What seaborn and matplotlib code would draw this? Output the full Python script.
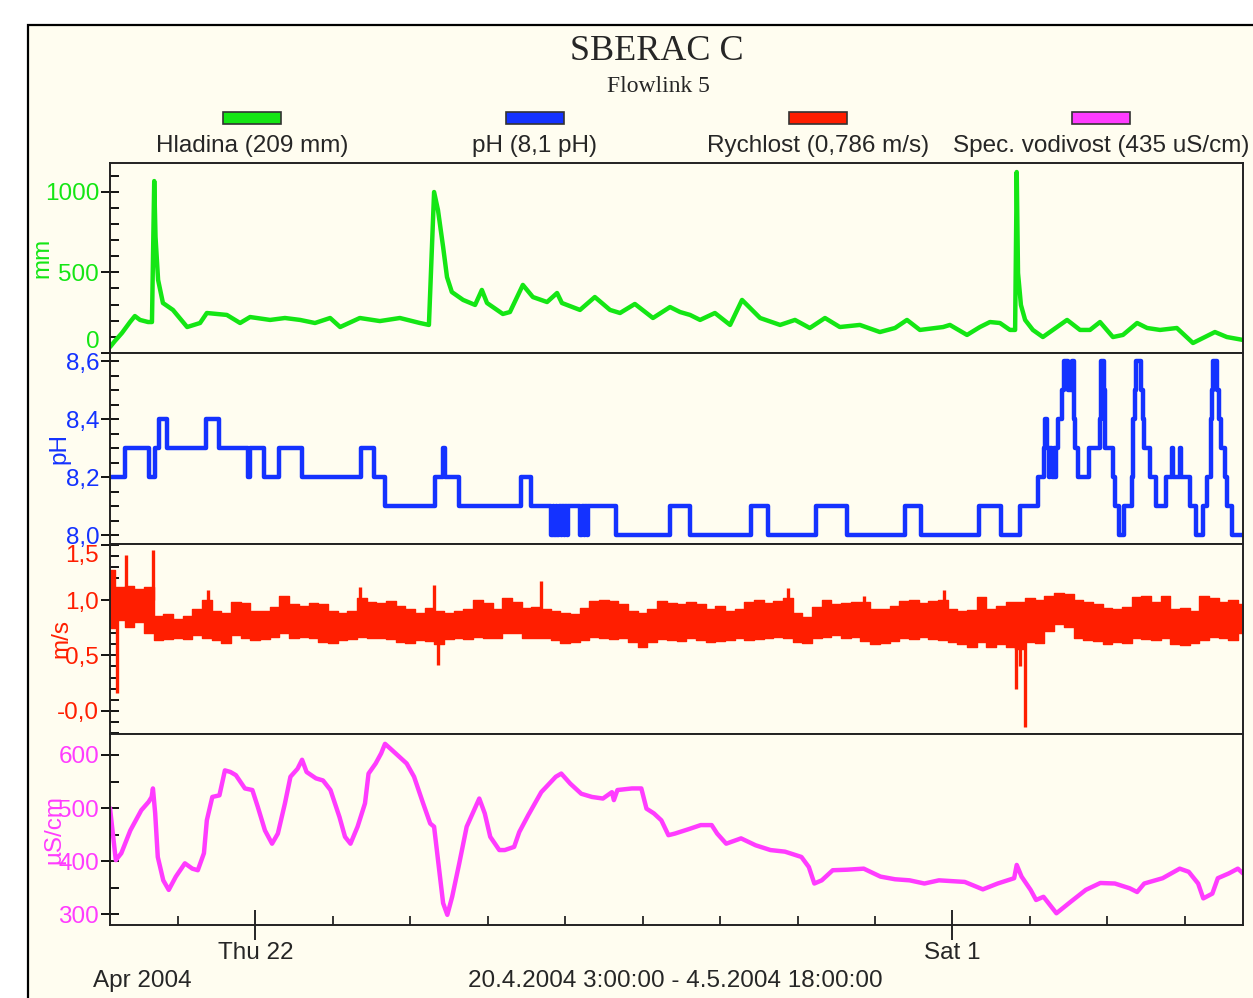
import matplotlib
matplotlib.use("Agg")
import matplotlib.pyplot as plt
import matplotlib.dates as mdates
import matplotlib.ticker as mtick
from matplotlib.patches import Rectangle
import numpy as np
import pandas as pd
import seaborn as sns

sns.set_style("ticks")
plt.rcParams['font.family'] = ['Liberation Sans', 'DejaVu Sans']

START = pd.Timestamp('2004-04-20 03:00')
END = pd.Timestamp('2004-05-04 18:00')

# --- Hladina (mm), hours since start ---
level_hours = [0.0, 1.5, 3.7, 6.2, 7.7, 9.3, 11.8, 13.0, 13.7, 14.1, 14.9, 16.4, 19.5, 23.9,
               27.9, 30.0, 36.2, 40.3, 43.4, 49.6, 54.2, 58.9, 63.5, 68.2, 71.3, 77.4, 83.6,
               89.8, 96.0, 98.8, 100.4, 101.6, 103.2, 104.4, 105.9, 109.4, 113.1, 115.2,
               116.8, 121.7, 123.9, 127.9, 131.0, 135.4, 138.5, 140.0, 145.6, 150.2, 154.9,
               158.0, 162.6, 168.2, 173.5, 176.6, 179.7, 182.8, 187.4, 192.1, 195.8, 201.4,
               207.6, 212.2, 216.8, 221.5, 226.1, 232.3, 238.5, 243.2, 246.9, 250.9, 258.1,
               260.2, 265.5, 269.5, 272.6, 275.7, 278.8, 280.4, 280.9, 281.3, 282.2, 283.5,
               285.9, 289.0, 292.1, 296.5, 300.5, 303.6, 306.7, 310.7, 313.8, 318.2, 321.3,
               325.3, 330.5, 335.5, 338.6, 342.3, 346.0, 351.0]
level_mm = [37, 74, 124, 192, 229, 205, 192, 192, 1066, 720, 453, 310, 267, 161,
            186, 248, 236, 186, 223, 205, 217, 205, 186, 217, 161, 217, 198,
            217, 186, 174, 998, 887, 657, 471, 378, 329, 298, 391,
            310, 242, 254, 422, 347, 316, 372, 310, 267, 347, 267,
            248, 304, 217, 285, 254, 236, 205, 248, 174, 329, 217,
            174, 205, 155, 217, 161, 174, 130, 155, 205, 143, 161,
            174, 112, 161, 192, 186, 143, 143, 1122, 496, 298, 205,
            143, 99, 143, 205, 143, 143, 192, 99, 112, 186, 155,
            143, 155, 62, 93, 130, 99, 81]

# --- pH, step changes (hours since start, new level) ---
ph_hours = [0.0, 4.6, 12.2, 13.9, 15.3, 17.6, 29.6, 33.9, 42.9, 43.5, 47.7, 52.3, 59.6,
            77.8, 81.8, 85.2, 100.6, 103.3, 103.8, 108.0, 127.4, 130.4,
            136.6, 137.1, 137.6, 138.1, 138.6, 139.1, 139.6, 140.1, 140.6, 141.1, 141.6, 141.9,
            145.7, 146.2, 146.7, 147.2, 147.7, 148.0,
            156.7, 173.5, 179.8, 198.7, 203.8, 218.8, 228.4, 246.4, 251.4, 269.1, 276.1,
            281.8, 287.5, 289.2, 289.8, 290.3, 290.9, 291.3, 291.8, 292.3, 292.7, 293.2,
            293.7, 294.9, 295.6, 296.9, 297.9, 298.6, 299.1, 299.9, 303.2, 306.8, 307.0,
            307.9, 308.2, 310.8, 311.3, 312.5, 314.2, 316.5, 317.0, 317.6, 317.9, 319.5,
            319.9, 320.4, 322.1, 323.9, 327.3, 329.0, 329.4, 331.4, 331.8, 334.6, 336.3,
            338.6, 339.7, 341.1, 341.4, 341.8, 343.1, 343.7, 344.3, 345.4, 346.0, 347.7, 351.0]
ph_values = [8.2, 8.3, 8.2, 8.3, 8.4, 8.3, 8.4, 8.3, 8.2, 8.3, 8.2, 8.3, 8.2,
             8.3, 8.2, 8.1, 8.2, 8.3, 8.2, 8.1, 8.2, 8.1,
             8.0, 8.1, 8.0, 8.1, 8.0, 8.1, 8.0, 8.1, 8.0, 8.1, 8.0, 8.1,
             8.0, 8.1, 8.0, 8.1, 8.0, 8.1,
             8.0, 8.1, 8.0, 8.1, 8.0, 8.1, 8.0, 8.1, 8.0, 8.1, 8.0,
             8.1, 8.2, 8.3, 8.4, 8.3, 8.2, 8.3, 8.2, 8.3, 8.2, 8.3,
             8.4, 8.5, 8.6, 8.5, 8.6, 8.4, 8.3, 8.2, 8.3, 8.4, 8.6,
             8.5, 8.3, 8.2, 8.1, 8.0, 8.1, 8.2, 8.4, 8.5, 8.6, 8.5,
             8.4, 8.3, 8.2, 8.1, 8.2, 8.3, 8.2, 8.3, 8.2, 8.1, 8.0,
             8.1, 8.2, 8.4, 8.5, 8.6, 8.5, 8.4, 8.3, 8.2, 8.1, 8.0, 8.0]

# --- Rychlost (m/s): noisy band, upper / lower envelope every 3 h ---
speed_hi = [1.27, 1.12, 1.13, 1.10, 1.12, 0.86, 0.87, 0.83, 0.86, 0.92,
            1.00, 0.90, 0.88, 0.98, 0.97, 0.90, 0.90, 0.94, 1.04, 0.96,
            0.95, 0.97, 0.96, 0.90, 0.88, 0.90, 1.02, 0.98, 0.97, 0.99,
            0.95, 0.92, 0.88, 0.93, 0.90, 0.88, 0.90, 0.92, 1.00, 0.97,
            0.92, 1.02, 0.98, 0.93, 0.94, 0.92, 0.90, 0.88, 0.87, 0.93,
            0.99, 1.00, 0.99, 0.96, 0.90, 0.88, 0.92, 0.99, 0.97, 0.96,
            0.98, 0.96, 0.92, 0.95, 0.90, 0.92, 0.98, 1.00, 0.97, 0.99,
            1.02, 0.88, 0.85, 0.94, 1.00, 0.96, 0.97, 0.98, 0.98, 0.92,
            0.92, 0.95, 0.99, 1.00, 0.97, 0.99, 1.00, 0.92, 0.90, 0.91,
            1.03, 0.92, 0.95, 0.98, 0.98, 1.02, 1.00, 1.04, 1.06, 1.05,
            1.00, 0.98, 0.96, 0.93, 0.92, 0.94, 1.03, 1.04, 0.98, 1.04,
            0.92, 0.93, 0.90, 1.04, 1.02, 0.98, 1.00, 0.96]
speed_lo = [0.75, 0.82, 0.76, 0.80, 0.70, 0.64, 0.65, 0.66, 0.65, 0.68,
            0.66, 0.64, 0.61, 0.68, 0.66, 0.64, 0.65, 0.67, 0.70, 0.66,
            0.67, 0.66, 0.62, 0.61, 0.64, 0.65, 0.67, 0.66, 0.66, 0.65,
            0.62, 0.61, 0.64, 0.63, 0.60, 0.65, 0.66, 0.65, 0.67, 0.66,
            0.66, 0.70, 0.70, 0.66, 0.66, 0.66, 0.64, 0.61, 0.62, 0.64,
            0.67, 0.66, 0.65, 0.66, 0.62, 0.58, 0.62, 0.65, 0.64, 0.63,
            0.66, 0.64, 0.62, 0.63, 0.64, 0.66, 0.64, 0.65, 0.66, 0.67,
            0.66, 0.62, 0.61, 0.66, 0.67, 0.68, 0.66, 0.67, 0.63, 0.60,
            0.61, 0.63, 0.66, 0.65, 0.67, 0.65, 0.64, 0.62, 0.60, 0.58,
            0.62, 0.58, 0.60, 0.58, 0.56, 0.62, 0.61, 0.72, 0.78, 0.76,
            0.66, 0.64, 0.63, 0.60, 0.62, 0.61, 0.66, 0.65, 0.64, 0.66,
            0.60, 0.59, 0.61, 0.64, 0.67, 0.66, 0.64, 0.70]
# isolated spikes (hours, from, to)
spike_hours = [0.2, 2.2, 5.0, 13.3, 30.5, 77.3, 100.4, 101.5, 133.5, 210.0, 233.6, 258.5,
               280.7, 281.9, 283.5]
spike_from = [0.9, 0.9, 1.0, 1.0, 0.9, 0.9, 0.9, 0.7, 0.9, 0.9, 0.9, 0.9, 0.7, 0.7, 0.7]
spike_to = [1.27, 0.16, 1.41, 1.45, 1.09, 1.12, 1.14, 0.41, 1.17, 1.11, 1.04, 1.09,
            0.20, 0.40, -0.15]

# --- Spec. vodivost (uS/cm) ---
cond_hours = [0.0, 1.8, 3.5, 6.3, 9.7, 12.0, 12.9, 13.3, 14.0, 14.8, 16.5, 18.2, 20.4, 23.2,
              25.5, 27.2, 29.1, 30.0, 31.7, 33.9, 35.6, 37.3, 39.0, 41.8, 44.1, 45.8, 48.0,
              50.2, 52.0, 54.2, 55.9, 58.1, 59.5, 60.9, 63.8, 66.0, 68.3, 71.1, 72.8, 74.5,
              76.7, 79.0, 80.1, 82.3, 84.0, 85.2, 87.4, 91.9, 94.2, 97.0, 99.2, 100.4, 101.5,
              103.2, 104.5, 106.0, 108.2, 110.5, 112.8, 114.4, 116.1, 117.8, 120.6, 122.3,
              125.2, 126.8, 129.6, 133.6, 138.1, 139.8, 142.6, 146.0, 149.3, 152.7, 155.5,
              156.1, 157.2, 161.7, 164.6, 166.2, 168.5, 170.8, 173.0, 175.0, 179.6, 183.0,
              186.4, 188.1, 190.9, 195.5, 200.0, 204.6, 209.1, 214.2, 216.5, 218.2, 220.5,
              223.9, 228.4, 233.5, 238.7, 243.2, 247.7, 252.3, 256.8, 264.8, 270.4, 275.0,
              280.1, 280.9, 282.4, 285.2, 286.9, 289.2, 293.2, 297.7, 302.3, 306.8, 311.3,
              315.9, 318.2, 320.4, 326.1, 331.4, 334.2, 337.1, 338.7, 341.5, 343.2, 346.6,
              349.4, 351.0]
cond_values = [500, 402, 415, 458, 496, 512, 521, 537, 490, 408, 364, 346, 371, 396,
               386, 383, 415, 477, 521, 524, 571, 568, 562, 537, 534, 502, 458,
               433, 452, 509, 559, 574, 591, 568, 556, 552, 534, 483, 446, 433,
               465, 509, 565, 584, 603, 621, 609, 584, 559, 509, 471, 465, 408,
               321, 299, 333, 396, 465, 496, 518, 490, 446, 421, 421,
               427, 455, 487, 530, 559, 565, 546, 527, 521, 518, 530,
               515, 534, 537, 537, 499, 490, 477, 449, 452, 461, 468,
               468, 452, 433, 443, 430, 421, 418, 408, 389, 358, 364,
               383, 384, 386, 371, 366, 364, 358, 364, 361, 347, 358,
               368, 393, 371, 346, 327, 333, 302, 324, 346, 359, 358,
               349, 342, 358, 368, 386, 380, 358, 330, 339, 368, 377,
               386, 377]

legend_labels = ['Hladina (209 mm)', 'pH (8,1 pH)', 'Rychlost (0,786 m/s)',
                 'Spec. vodivost (435 uS/cm)']
units = ['mm', 'pH', 'm/s', 'µS/cm']

BG = '#fffdf0'
GREEN = '#14e614'
BLUE = '#1432ff'
RED = '#ff1e00'
MAGENTA = '#ff3cff'
colors = [GREEN, BLUE, RED, MAGENTA]
FS = 17.5


def to_time(hours):
    return START + pd.to_timedelta(hours, unit='h')


W, H = 1253, 998


def px_rect(x0, y0, x1, y1):
    return [x0 / W, 1 - y1 / H, (x1 - x0) / W, (y1 - y0) / H]


fig = plt.figure(figsize=(W / 100, H / 100), dpi=100, facecolor='white')
fig.add_artist(Rectangle((28 / W, -0.02), 1.0, 1 - 25 / H + 0.02, transform=fig.transFigure,
                         facecolor=BG, edgecolor='black', lw=1.6, zorder=0))

panels = [(163, 353), (353, 544), (544, 734), (734, 925)]
axes = []
for i, (top, bottom) in enumerate(panels):
    ax = fig.add_axes(px_rect(110, top, 1243, bottom), sharex=axes[0] if axes else None)
    ax.set_facecolor(BG)
    for s in ax.spines.values():
        s.set_linewidth(1.4)
        s.set_color('#222222')
    axes.append(ax)

# green - water level
level_df = pd.DataFrame({'time': to_time(level_hours), 'mm': level_mm})
sns.lineplot(data=level_df, x='time', y='mm', ax=axes[0], color=GREEN, lw=3.2,
             estimator=None, sort=False)
# blue - pH steps
ph_df = pd.DataFrame({'time': to_time(ph_hours), 'ph': ph_values})
sns.lineplot(data=ph_df, x='time', y='ph', ax=axes[1], color=BLUE, lw=3.2,
             estimator=None, sort=False, drawstyle='steps-post')
# red - velocity band
speed_times = pd.date_range(START, periods=len(speed_hi), freq='3h')
axes[2].fill_between(speed_times, speed_lo, speed_hi, step='mid', color=RED, lw=1.0,
                     edgecolor=RED)
axes[2].vlines(to_time(spike_hours), spike_from, spike_to, color=RED, lw=2.4)
# magenta - conductivity
cond_df = pd.DataFrame({'time': to_time(cond_hours), 'cond': cond_values})
sns.lineplot(data=cond_df, x='time', y='cond', ax=axes[3], color=MAGENTA, lw=3.2,
             estimator=None, sort=False)

# y axes
ylims = [(0, 1178), (7.969, 8.628), (-0.21, 1.506), (279.9, 639.5)]
yticks = [[0, 500, 1000], [8.0, 8.2, 8.4, 8.6], [0.0, 0.5, 1.0, 1.5], [300, 400, 500, 600]]
yticklabels = [['0', '500', '1000'], ['8,0', '8,2', '8,4', '8,6'],
               ['-0,0', '0,5', '1,0', '1,5'], ['300', '400', '500', '600']]
minor_steps = [100, 0.05, 0.1, 50]
label_x = [-0.0503, -0.0353, -0.0335, -0.0397]

for ax, lim, tk, tl, ms, col, unit, lx in zip(axes, ylims, yticks, yticklabels, minor_steps,
                                             colors, units, label_x):
    ax.set_ylim(*lim)
    ax.set_yticks(tk)
    ax.set_yticklabels(tl)
    ax.yaxis.set_minor_locator(mtick.MultipleLocator(ms))
    ax.tick_params(axis='y', which='major', direction='inout', length=13.5, width=1.3,
                   pad=1, labelsize=FS, labelcolor=col, color='black')
    ax.tick_params(axis='y', which='minor', direction='in', length=6.5, width=1.3,
                   color='black')
    ax.set_ylabel(unit, color=col, fontsize=FS)
    ax.yaxis.set_label_coords(lx, 0.5)
    ax.set_xlabel('')

axes[0].get_yticklabels()[0].set_verticalalignment('bottom')
axes[2].get_yticklabels()[-1].set_verticalalignment('top')

# x axis
axes[3].set_xlim(START, END)
axes[3].xaxis.set_minor_locator(mdates.DayLocator())
axes[3].set_xticks([pd.Timestamp('2004-04-22'), pd.Timestamp('2004-05-01')])
axes[3].set_xticklabels(['Thu 22', 'Sat 1'])
axes[3].tick_params(axis='x', which='major', direction='inout', length=22, width=1.4,
                    pad=1, labelsize=FS)
axes[3].tick_params(axis='x', which='minor', direction='in', length=6.5, width=1.3)
for ax in axes[:3]:
    ax.tick_params(axis='x', which='both', bottom=False, labelbottom=False)

# titles and legend
fig.text(657 / W, 1 - 52 / H, 'SBERAC C', family='Liberation Serif', fontsize=26,
         ha='center', va='center')
fig.text(658 / W, 1 - 86 / H, 'Flowlink 5', family='Liberation Serif', fontsize=17,
         ha='center', va='center')
centers = [252, 535, 818, 1101]
for c, lab, col in zip(centers, legend_labels, colors):
    fig.add_artist(Rectangle(((c - 29) / W, 1 - 124 / H), 58 / W, 12 / H,
                             transform=fig.transFigure, facecolor=col,
                             edgecolor='#333333', lw=1.2))
    fig.text(c / W, 1 - 146 / H, lab, fontsize=FS, ha='center', va='center')

fig.text(93 / W, 1 - 981 / H, 'Apr 2004', fontsize=FS, ha='left', va='center')
fig.text(675 / W, 1 - 981 / H, '20.4.2004 3:00:00 - 4.5.2004 18:00:00', fontsize=FS,
         ha='center', va='center')

fig.savefig('out.png', dpi=100, facecolor='white')
